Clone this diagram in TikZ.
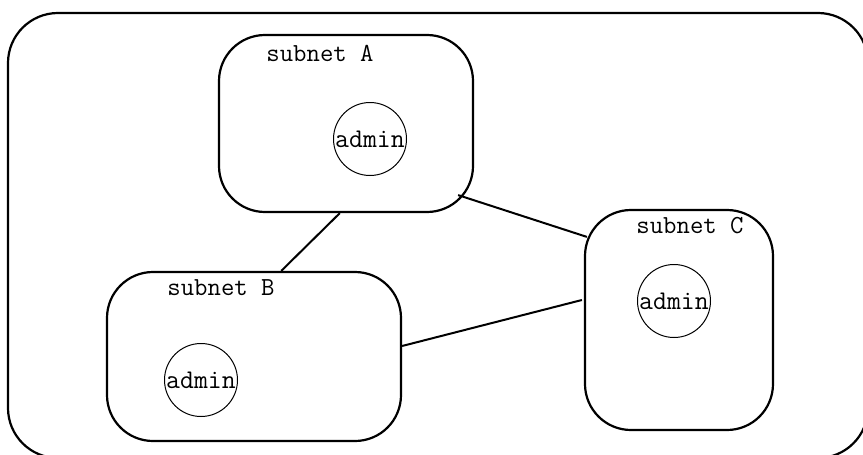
\documentclass[tikz,border=0pt]{standalone}
\usepackage{tikz}
\usetikzlibrary{calc}

\begin{document}
\begin{tikzpicture}[x=0.5pt, y=-0.5pt,
  subnet/.style={draw, line width=1.1pt, rounded corners=23pt, inner sep=0pt},
  admin/.style={draw, circle, line width=0.5pt, minimum size=36.5pt, inner sep=0pt,
    font=\ttfamily\fontsize{13.5}{16}\selectfont},
  tag/.style={font=\ttfamily\fontsize{13}{15}\selectfont, inner sep=0pt},
  link/.style={line width=1pt}]
\useasboundingbox (0,0) rectangle (863,455);
\clip (0,0) rectangle (863,455);

% ===== 外框 =====
\draw[line width=1.1pt, rounded corners=25pt] (8,13) rectangle (868,458);

% ===== 子网 =====
\node[subnet, minimum width=127pt, minimum height=88.5pt] (subnetA) at (346,123.5) {};
\node[subnet, minimum width=147pt, minimum height=84.5pt] (subnetB) at (254,356.5) {};
\node[subnet, minimum width=94pt, minimum height=110pt] (subnetC) at (679,320) {};

% ===== 子网标签 =====
\node[tag] (tagA) at (320,53) {subnet A};
\node[tag] (tagB) at (221,288) {subnet B};
\node[tag] (tagC) at (690,226) {subnet C};

% ===== admin 节点 =====
\node[admin] (adminA) at (370,139) {admin};
\node[admin] (adminB) at (201,380) {admin};
\node[admin] (adminC) at (674,301) {admin};

% ===== 连线 =====
\draw[link] ($(subnetA.south west)!0.476!(subnetA.south east)$)
  -- ($(subnetB.north west)!0.592!(subnetB.north east)$);   % A -- B
\draw[link] ($(subnetA.south east)+(-16,-18)$)
  -- ($(subnetC.north west)+(3,28)$);                       % A -- C
\draw[link] ($(subnetB.east)+(0,-10.5)$)
  -- ($(subnetC.west)+(-2,-20)$);                           % B -- C
\end{tikzpicture}
\end{document}
